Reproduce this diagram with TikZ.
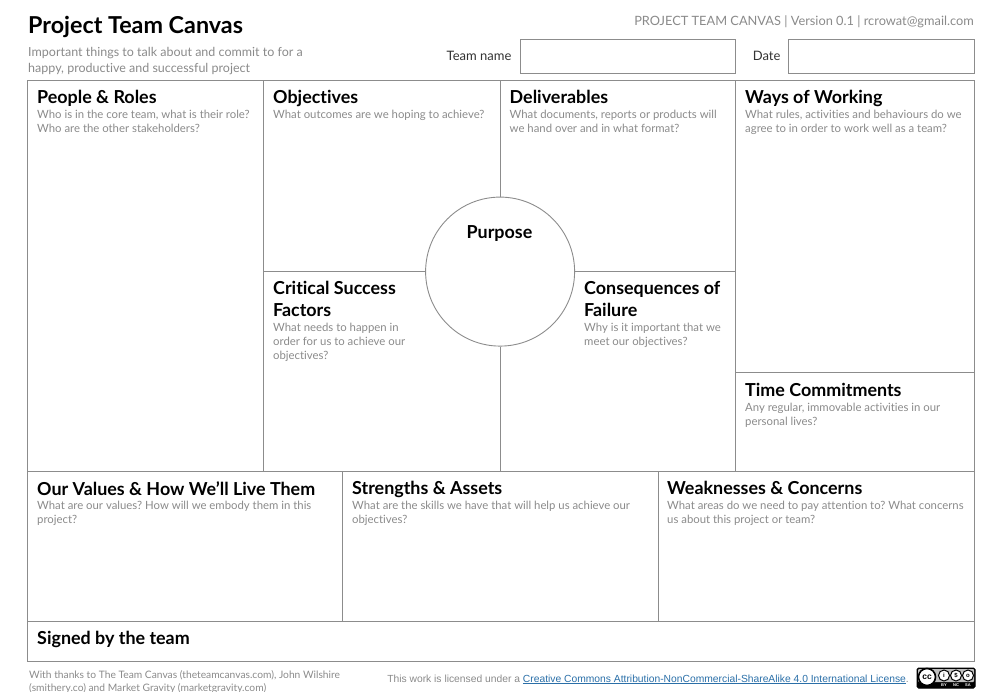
\documentclass[tikz,border=0pt]{standalone}
\usepackage{fontspec}
\usetikzlibrary{positioning}
\setmainfont[Ligatures=NoCommon]{Lato}
\newfontfamily\licfont{Liberation Sans}
\definecolor{framegray}{HTML}{8C8C8C}
\definecolor{hintgray}{HTML}{8A8A8A}
\definecolor{linkblue}{HTML}{2A6FA8}
\tikzset{
	heading/.style={anchor=north west, inner sep=0pt, text depth=5pt, font=\fontsize{17.9}{22}\selectfont\bfseries, text=black, align=left},
	hint/.style={anchor=north west, inner sep=0pt, font=\fontsize{11.35}{14}\selectfont\frenchspacing, text=hintgray, align=left},
	frame/.style={draw=framegray, line width=.9pt},
	fieldlabel/.style={inner sep=0pt, font=\fontsize{13}{16}\selectfont, text=black!80},
	ccdot/.style={circle, draw=black, line width=1pt, fill=white, minimum size=11pt, inner sep=0pt, font=\licfont\bfseries\fontsize{6}{6}\selectfont},
}
\begin{document}
\begin{tikzpicture}[x=1pt, y=-1pt]
	\useasboundingbox (0,0) rectangle (1000,692);
	% header
	\node[anchor=north west, inner sep=0pt, font=\fontsize{23.3}{28}\selectfont\bfseries] (title) at (28,16.5) {Project Team Canvas};
	\node[anchor=north west, inner sep=0pt, font=\fontsize{12.5}{16}\selectfont, text=hintgray, align=left] (intro) at (28,47.5) {Important things to talk about and commit to for a\\happy, productive and successful project};
	\node[anchor=north east, inner sep=0pt, font=\fontsize{12.8}{16}\selectfont, text=hintgray] (version) at (974,15) {PROJECT TEAM CANVAS | Version 0.1 | rcrowat@gmail.com};
	\begin{scope}[shift={(-.4,-.4)}]
		\node[frame, anchor=north west, minimum width=215.5pt, minimum height=34.5pt] (teambox) at (520,39) {};
		\node[frame, anchor=north west, minimum width=186.5pt, minimum height=34.5pt] (datebox) at (788,39) {};
		\node[fieldlabel, left=8pt of teambox] (teamlabel) {Team name};
		\node[fieldlabel, left=7pt of datebox] (datelabel) {Date};
		% canvas lines
		\draw[frame] (28,81) rectangle (975,662);
		\foreach \xa in {264, 736}{
				\draw[frame] (\xa,81) -- (\xa,472);
			}
		\foreach \xa in {343, 659}{
				\draw[frame] (\xa,472) -- (\xa,622);
			}
		\foreach \ya in {472, 622}{
				\draw[frame] (28,\ya) -- (975,\ya);
			}
		\draw[frame] (736,373) -- (975,373);
		\node[circle, frame, minimum size=149pt, inner sep=0pt] (purpose) at (500.5,272) {};
		\draw[frame] (purpose.north) -- (purpose.north |- 0,81);
		\draw[frame] (purpose.south) -- (purpose.south |- 0,472);
		\draw[frame] (264,272) -- (purpose.west);
		\draw[frame] (purpose.east) -- (736,272);
	\end{scope}
	\node[inner sep=0pt, font=\fontsize{17.9}{22}\selectfont\bfseries] (purposelabel) at (499.5,233.5) {Purpose};
	% cell texts
	\foreach \xa/\ya/\cell/\head/\sub in {
			37/90/people/{People \& Roles}/{Who is in the core team, what is their role?\\Who are the other stakeholders?},
			273/90/objectives/{Objectives}/{What outcomes are we hoping to achieve?},
			509.5/90/deliverables/{Deliverables}/{What documents, reports or products will\\we hand over and in what format?},
			745/90/ways/{Ways of Working}/{What rules, activities and behaviours do we\\agree to in order to work well as a team?},
			745/383/time/{Time Commitments}/{Any regular, immovable activities in our\\personal lives?},
			37/481/values/{Our Values \& How We’ll Live Them}/{What are our values? How will we embody them in this\\project?},
			352/481/strengths/{Strengths \& Assets}/{What are the skills we have that will help us achieve our\\objectives?},
			667/481/weaknesses/{Weaknesses \& Concerns}/{What areas do we need to pay attention to? What concerns\\us about this project or team?},
			273/281/critical/{Critical Success\\Factors}/{What needs to happen in\\order for us to achieve our\\objectives?},
			584/281/failure/{Consequences of\\Failure}/{Why is it important that we\\meet our objectives?}}{
			\node[heading] (\cell) at (\xa,\ya) {\head};
			\node[hint, below=1pt of \cell.south west, anchor=north west] (\cell sub) {\sub};
		}
	\node[heading] (signed) at (37,631) {Signed by the team};
	% footer
	\node[anchor=north west, inner sep=0pt, font=\fontsize{10.25}{12.5}\selectfont, text=hintgray, align=left] (thanks) at (29,670.5) {With thanks to The Team Canvas (theteamcanvas.com), John Wilshire\\(smithery.co) and Market Gravity (marketgravity.com)};
	\node[anchor=north east, inner sep=0pt, font=\licfont\fontsize{10.3}{13}\selectfont, text=hintgray] (license) at (909,674.5) {This work is licensed under a \textcolor{linkblue}{\underline{Creative Commons Attribution-NonCommercial-ShareAlike 4.0 International License}}.};
	% licence badge
	\draw[black, line width=1pt, fill=black, rounded corners=1.5pt] (917,668) rectangle (975,688);
	\fill[black!25, rounded corners=1pt] (918,669) rectangle (974,682);
	\node[ccdot, minimum size=17pt, line width=1.6pt, font=\licfont\bfseries\fontsize{8.5}{8.5}\selectfont] (ccmark) at (927,677) {cc};
	\foreach \xa/\cell/\sign/\tagtext in {944/bymark/i/BY, 956/ncmark/\$/NC, 968/samark/o/SA}{
			\node[ccdot] (\cell) at (\xa,675.5) {\sign};
			\node[inner sep=0pt, text=white, font=\licfont\bfseries\fontsize{4}{4}\selectfont] (\cell tag) at (\xa,685) {\tagtext};
		}
\end{tikzpicture}
\end{document}
